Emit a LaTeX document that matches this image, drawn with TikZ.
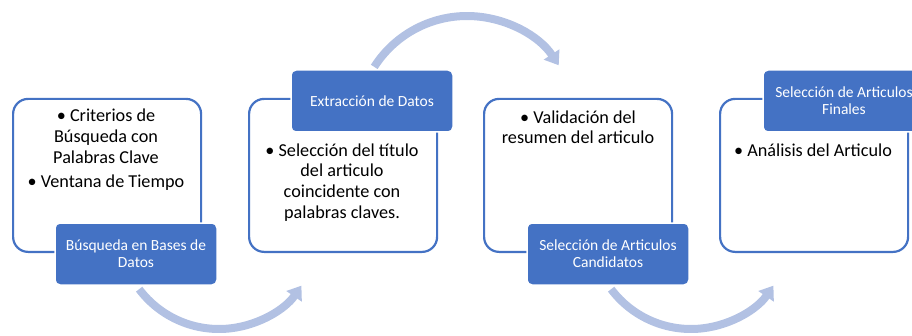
\documentclass[tikz,border=0pt]{standalone}
\usepackage{fontspec}
\setmainfont{Carlito}
\usetikzlibrary{arrows.meta}
\definecolor{accent}{HTML}{4472C4}
\definecolor{arrowc}{RGB}{178,193,227}
\begin{document}
\begin{tikzpicture}[x=1pt,y=1pt,
  box/.style={draw=accent, line width=2.2pt, rounded corners=15pt, fill=white,
    minimum width=188pt, minimum height=153pt, inner sep=0pt, anchor=south west},
  lab/.style={draw=white, line width=1.5pt, fill=accent, rounded corners=5pt, text=white,
    font=\fontsize{15.5}{17}\selectfont, align=center, minimum width=162pt,
    minimum height=62pt, inner sep=0pt},
  body/.style={font=\fontsize{18.2}{20.7}\selectfont, align=center, inner sep=0pt,
    anchor=north, text=black},
  flow/.style={draw=arrowc, line width=8pt, -{Triangle[width=18pt,length=13pt]}}
]
\useasboundingbox (0,0) rectangle (912,335);

% outline boxes
\node[box] (b1) at (12,82) {};
\node[box] (b2) at (248,82) {};
\node[box] (b3) at (483,82) {};
\node[box] (b4) at (719,82) {};

% body texts
\node[body] (t1) at (106,227.7) {\strut • Criterios de\\ Búsqueda con\\ Palabras Clave\\[3pt] • Ventana de Tiempo};
\node[body] (t2) at (342,193.5) {\strut • Selección del título\\ del articulo\\ coincidente con\\ palabras claves.};
\node[body] (t3) at (578,226.5) {\strut • Validación del\\ resumen del articulo};
\node[body] (t4) at (813,193.5) {\strut • Análisis del Articulo};

% curved arrows
\coordinate (a1s) at ({219+100*cos(217)},{106+100*sin(217)});
\coordinate (a2s) at ({467+110*cos(147.5)},{209+110*sin(147.5)});
\coordinate (a3s) at ({691+100*cos(217)},{106+100*sin(217)});
\draw[flow] (a1s) arc[start angle=217, end angle=325.5, radius=100];
\draw[flow] (a2s) arc[start angle=147.5, end angle=33.5, radius=110];
\draw[flow] (a3s) arc[start angle=217, end angle=325.5, radius=100];

% title labels
\node[lab] (l1) at (136,81) {Búsqueda en Bases de\\ Datos};
\node[lab] (l2) at (372,234) {Extracción de Datos};
\node[lab] (l3) at (608,81) {Selección de Articulos\\ Candidatos};
\node[lab] (l4) at (844,234) {Selección de Articulos\\ Finales};
\end{tikzpicture}
\end{document}
